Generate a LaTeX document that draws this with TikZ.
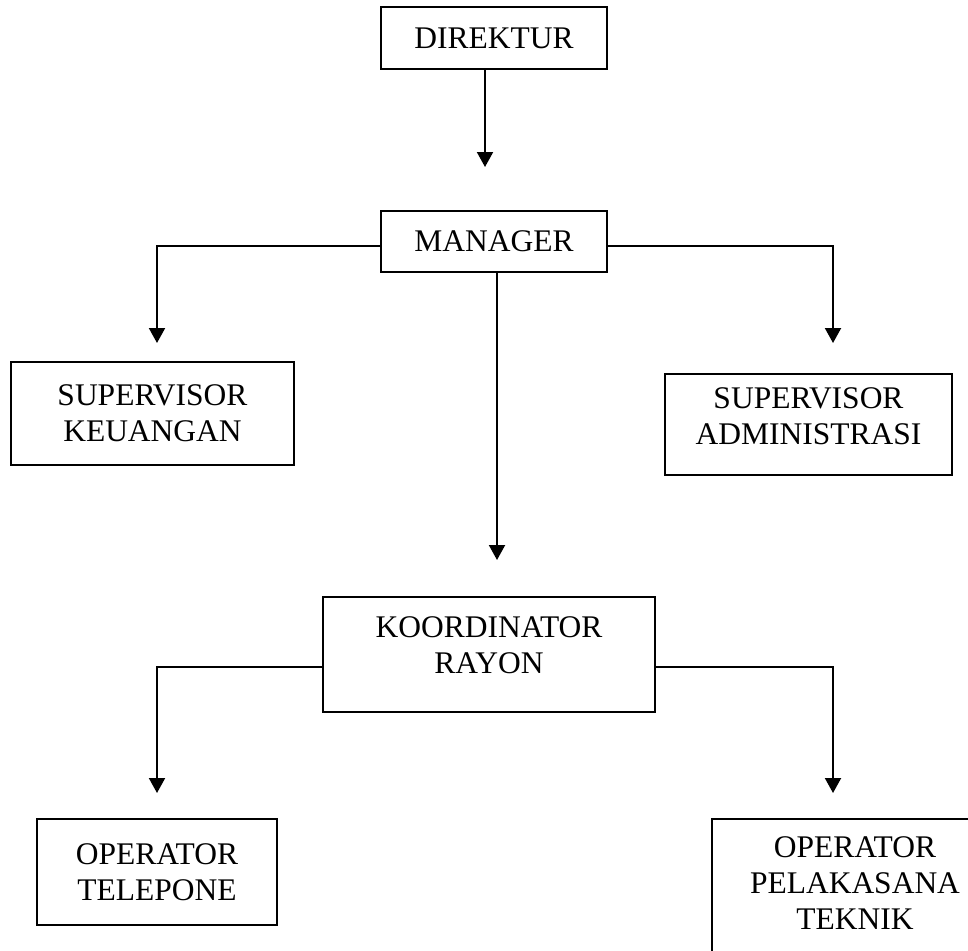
\documentclass[tikz,border=0pt]{standalone}
\usepackage{fontspec}
\setmainfont{Liberation Serif}
\usetikzlibrary{arrows.meta}
\begin{document}
\begin{tikzpicture}[x=1pt,y=-1pt,
  box/.style={draw,line width=2pt,inner sep=0pt,align=center,
    font=\fontsize{31.5}{36}\selectfont},
  conn/.style={line width=2pt,-{Triangle[width=16pt,length=15pt]}}]
\useasboundingbox (0,0) rectangle (968,950);
\clip (0,0) rectangle (968,950);
\node[box,minimum width=226pt,minimum height=62pt] (dir) at (494,38) {DIREKTUR};
\node[box,minimum width=226pt,minimum height=61pt] (man) at (494,241.5) {MANAGER};
\node[box,minimum width=283pt,minimum height=103pt] (keu) at (152.5,413.5) {SUPERVISOR\\KEUANGAN};
\node[box,minimum width=287pt,minimum height=101pt] (adm) at (808.5,424.5) {SUPERVISOR\\ADMINISTRASI\\[-20pt]};
\node[box,minimum width=332pt,minimum height=115pt] (kor) at (489,654.5) {KOORDINATOR\\RAYON\\[-18pt]};
\node[box,minimum width=240pt,minimum height=106pt] (tel) at (157,872) {OPERATOR\\TELEPONE};
\node[box,minimum width=286pt,minimum height=170pt,text depth=0pt] (pel) at (855,904) {OPERATOR\\PELAKASANA\\TEKNIK\\[6pt]};
\coordinate (dirEnd) at (485,167);
\coordinate (keuIn) at (157,343);
\coordinate (admIn) at (833,343);
\coordinate (korIn) at (497,560);
\coordinate (telIn) at (157,793);
\coordinate (pelIn) at (833,793);
\draw[conn] (dir.south -| dirEnd) -- (dirEnd);
\draw[conn] ([yshift=-4pt]man.west) -| (keuIn);
\draw[conn] ([yshift=-4pt]man.east) -| (admIn);
\draw[conn] (man.south -| korIn) -- (korIn);
\draw[conn] ([yshift=-12.5pt]kor.west) -| (telIn);
\draw[conn] ([yshift=-12.5pt]kor.east) -| (pelIn);
\end{tikzpicture}
\end{document}
